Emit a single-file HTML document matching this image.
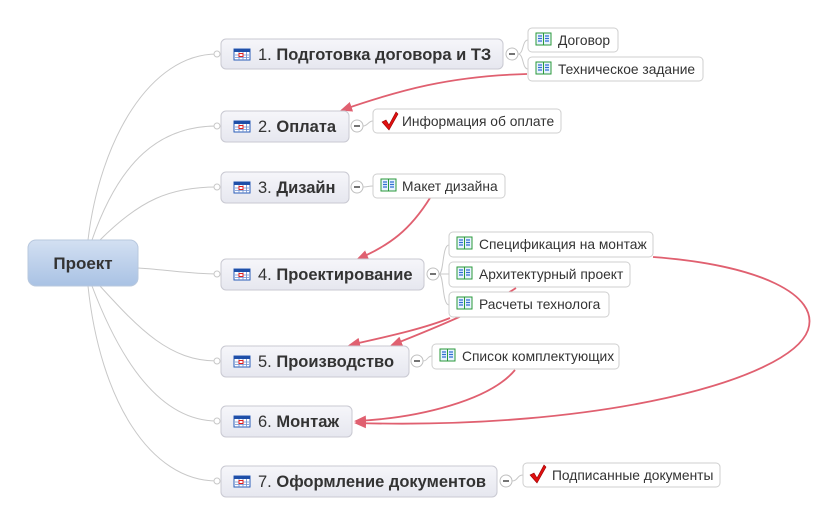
<!DOCTYPE html>
<html><head><meta charset="utf-8"><style>
body{margin:0;background:#fff}
svg{display:block}
text{font-family:"Liberation Sans",sans-serif;fill:#333}
.t{font-size:16.5px}
.s{font-size:13.8px}
</style></head><body>
<svg width="833" height="513" viewBox="0 0 833 513" xmlns="http://www.w3.org/2000/svg">
<defs>
<linearGradient id="rg" x1="0" y1="0" x2="0" y2="1"><stop offset="0" stop-color="#d3e0f2"/><stop offset="1" stop-color="#a9c2e4"/></linearGradient>
<linearGradient id="tg" x1="0" y1="0" x2="0" y2="1"><stop offset="0" stop-color="#f6f6fa"/><stop offset="1" stop-color="#e6e7ef"/></linearGradient>
<g id="ti"><rect x="0" y="0" width="16" height="11" fill="#fff" stroke="#2a5cb8"/><rect x="0" y="0" width="16" height="3" fill="#1f4fa8"/><path d="M1 6h14M1 8.5h14M5 3v8M9 3v8M12.5 3v8" stroke="#6d8fd0" stroke-width="0.8"/><rect x="5" y="4.5" width="4" height="3" fill="#fff" stroke="#e02020"/></g>
<g id="bk"><rect x="0" y="0" width="15" height="12" fill="#e9f3ff" stroke="#2a9a3a"/><path d="M7.5 0v12" stroke="#2a9a3a"/><path d="M2 3h4M2 5.5h4M2 8h4M9 3h4M9 5.5h4M9 8h4" stroke="#2f6fd0" stroke-width="1.2"/></g>
<g id="ck"><path d="M0 8 L4 6 L7 11 L14 -2 L16 0 L7 16 Z" fill="#e01010" stroke="#900" stroke-width="0.6"/></g>
<marker id="ar" markerWidth="12" markerHeight="10" refX="10" refY="5" orient="auto" markerUnits="userSpaceOnUse"><path d="M0 0L12 5L0 10Z" fill="#e06070"/></marker>
</defs>

<g fill="none" stroke="#c8c8c8" stroke-width="1">
<path d="M88 240 C100 140 150 54 217 54"/>
<path d="M92 240 C120 160 160 126 217 126"/>
<path d="M100 240 C140 200 170 187 217 187"/>
<path d="M138 268 C170 270 190 274 217 274"/>
<path d="M100 286 C140 330 170 361 217 361"/>
<path d="M92 286 C120 360 160 421 217 421"/>
<path d="M88 286 C100 400 150 481 217 481"/>
</g>
<g fill="#fff" stroke="#c8c8c8"><circle cx="217" cy="54" r="3"/><circle cx="217" cy="126" r="3"/><circle cx="217" cy="187" r="3"/><circle cx="217" cy="274" r="3"/><circle cx="217" cy="361" r="3"/><circle cx="217" cy="421" r="3"/><circle cx="217" cy="481" r="3"/></g>

<rect x="28" y="240" width="110" height="46" rx="8" fill="url(#rg)" stroke="#b8c8de"/>
<text x="83" y="269" text-anchor="middle" style="font-size:17px;font-weight:bold">Проект</text>

<g fill="none" stroke="#c8c8c8">
<path d="M518 54 C524 54 522 40 528 40 M518 54 C524 54 522 69 528 69"/>
<path d="M363 126 C368 126 368 121 373 121"/>
<path d="M363 187 C368 187 368 186 373 186"/>
<path d="M439 274 C444 274 442 245 449 245 M439 274 H449 M439 274 C444 274 442 305 449 305"/>
<path d="M423 361 C428 361 427 356 432 356"/>
<path d="M512 481 C518 481 517 475 523 475"/>
</g>
<g fill="#fff" stroke="#c0c0c0">
<circle cx="512" cy="54" r="6"/><circle cx="357" cy="126" r="6"/><circle cx="357" cy="187" r="6"/><circle cx="433" cy="274" r="6"/><circle cx="417" cy="361" r="6"/><circle cx="506" cy="481" r="6"/>
</g>
<g stroke="#222" stroke-width="1.2"><path d="M509 54h6M354 126h6M354 187h6M430 274h6M414 361h6M503 481h6"/></g>

<!-- relationship arrows (beneath boxes) -->
<g fill="none" stroke="#e06070" stroke-width="1.8" marker-end="url(#ar)">
<path d="M527 74 C450 76 400 90 342 110"/>
<path d="M430 198 C410 230 390 245 358 259"/>
<path d="M450 318 C420 330 380 338 350 345"/>
<path d="M516 288 C490 305 430 330 392 345"/>
<path d="M653 257 C760 265 820 295 808 330 C790 380 600 430 356 423"/>
<path d="M515 370 C490 400 420 418 356 421"/>
</g>

<g fill="url(#tg)" stroke="#c9c9d2">
<rect x="221" y="39" width="282" height="30" rx="5"/>
<rect x="221" y="111" width="128" height="31" rx="5"/>
<rect x="221" y="172" width="128" height="31" rx="5"/>
<rect x="221" y="259" width="203" height="31" rx="5"/>
<rect x="221" y="346" width="188" height="31" rx="5"/>
<rect x="221" y="406" width="131" height="31" rx="5"/>
<rect x="221" y="466" width="276" height="31" rx="5"/>
</g>
<use href="#ti" x="234" y="49"/><use href="#ti" x="234" y="121"/><use href="#ti" x="234" y="182"/><use href="#ti" x="234" y="269"/><use href="#ti" x="234" y="356"/><use href="#ti" x="234" y="416"/><use href="#ti" x="234" y="476"/>
<text class="t" x="258" y="60">1. <tspan font-weight="bold">Подготовка договора и ТЗ</tspan></text>
<text class="t" x="258" y="132">2. <tspan font-weight="bold">Оплата</tspan></text>
<text class="t" x="258" y="193">3. <tspan font-weight="bold">Дизайн</tspan></text>
<text class="t" x="258" y="280">4. <tspan font-weight="bold">Проектирование</tspan></text>
<text class="t" x="258" y="367">5. <tspan font-weight="bold">Производство</tspan></text>
<text class="t" x="258" y="427">6. <tspan font-weight="bold">Монтаж</tspan></text>
<text class="t" x="258" y="487">7. <tspan font-weight="bold">Оформление документов</tspan></text>

<g fill="#fff" stroke="#cfcfcf">
<rect x="528" y="28" width="90" height="24" rx="4"/>
<rect x="528" y="57" width="175" height="24" rx="4"/>
<rect x="373" y="109" width="188" height="24" rx="4"/>
<rect x="373" y="174" width="132" height="24" rx="4"/>
<rect x="449" y="232" width="204" height="25" rx="4"/>
<rect x="449" y="262" width="181" height="25" rx="4"/>
<rect x="449" y="292" width="160" height="25" rx="4"/>
<rect x="432" y="344" width="187" height="25" rx="4"/>
<rect x="523" y="463" width="197" height="24" rx="4"/>
</g>
<use href="#bk" x="536" y="33"/><use href="#bk" x="536" y="62"/><use href="#bk" x="381" y="179"/><use href="#bk" x="457" y="237"/><use href="#bk" x="457" y="267"/><use href="#bk" x="457" y="297"/><use href="#bk" x="440" y="349"/>
<use href="#ck" x="382" y="114"/><use href="#ck" x="530" y="467"/>
<text class="s" x="558" y="45">Договор</text>
<text class="s" x="558" y="74">Техническое задание</text>
<text class="s" x="402" y="126">Информация об оплате</text>
<text class="s" x="402" y="191">Макет дизайна</text>
<text class="s" x="479" y="249">Спецификация на монтаж</text>
<text class="s" x="479" y="279">Архитектурный проект</text>
<text class="s" x="479" y="309">Расчеты технолога</text>
<text class="s" x="462" y="361">Список комплектующих</text>
<text class="s" x="552" y="480">Подписанные документы</text>
</svg>
</body></html>
